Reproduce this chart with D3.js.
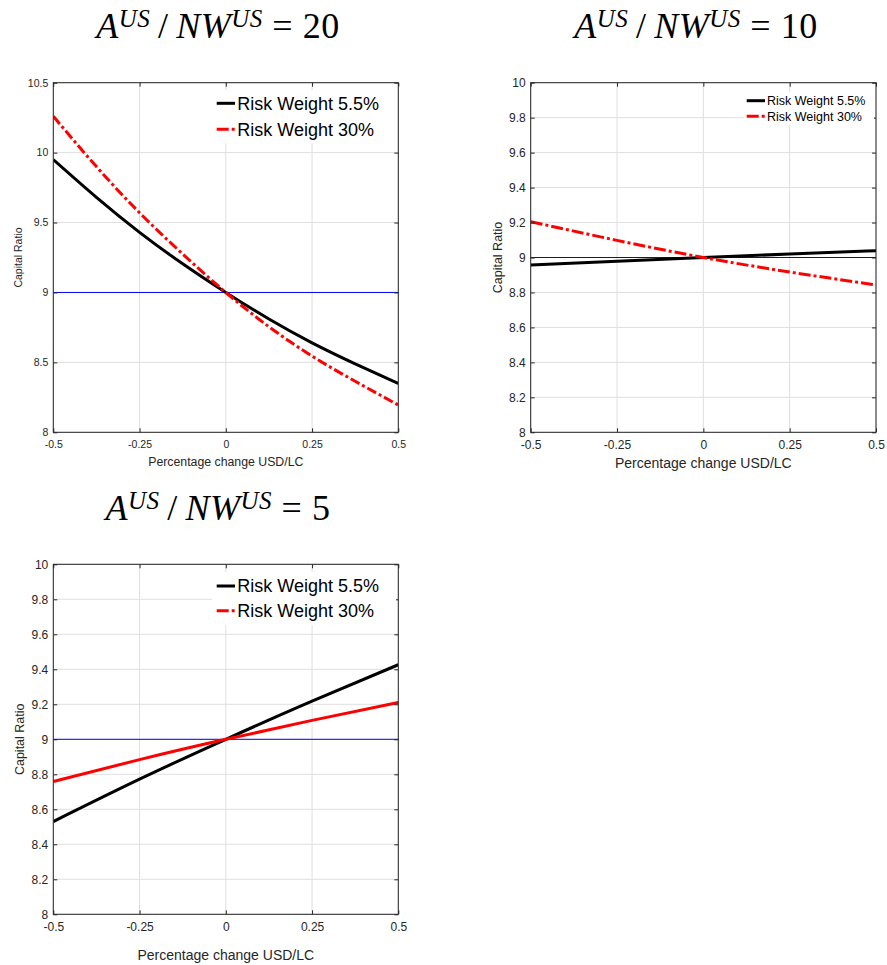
<!DOCTYPE html>
<html><head><meta charset="utf-8">
<script src="https://cdn.jsdelivr.net/npm/d3@7"></script>
<style>body{margin:0;background:#fff} svg{display:block}</style>
</head><body><svg id="c" width="887" height="965"></svg>
<script>
// ---------- data ----------
const xTicks = [-0.5, -0.25, 0, 0.25, 0.5];
const xTickLabels = ["-0.5", "-0.25", "0", "0.25", "0.5"];
const p1YTicks = [8, 8.5, 9, 9.5, 10, 10.5];
const p1YTickLabels = ["8", "8.5", "9", "9.5", "10", "10.5"];
const p23YTicks = [8, 8.2, 8.4, 8.6, 8.8, 9, 9.2, 9.4, 9.6, 9.8, 10];
const p23YTickLabels = ["8", "8.2", "8.4", "8.6", "8.8", "9", "9.2", "9.4", "9.6", "9.8", "10"];
const seriesNames = ["Risk Weight 5.5%", "Risk Weight 30%"];
const titleRatios = ["20", "10", "5"];
const xAxisLabel = "Percentage change USD/LC";
const yAxisLabel = "Capital Ratio";
const referenceLevel = 9;

const p1X = [-0.5, -0.375, -0.25, -0.125, 0, 0.125, 0.25, 0.375, 0.5];
const p1Black = [9.95, 9.68, 9.43, 9.205, 9.0, 8.81, 8.64, 8.49, 8.35];
const p1Red = [10.26, 9.90, 9.57, 9.275, 9.0, 8.755, 8.545, 8.365, 8.195];

const p2X = [-0.5, -0.25, 0, 0.25, 0.5];
const p2Black = [8.957, 8.978, 9.0, 9.02, 9.039];
const p2Red = [9.205, 9.098, 9.0, 8.917, 8.843];

const p3X = [-0.5, -0.25, 0, 0.25, 0.5];
const p3Black = [8.53, 8.772, 9.0, 9.218, 9.426];
const p3Red = [8.759, 8.884, 9.0, 9.108, 9.21];

// ---------- layout ----------
const panels = [
  {x: p1X, black: p1Black, red: p1Red, yTicks: p1YTicks, yLabels: p1YTickLabels, yDomain: [8, 10.5],
   left: 53.3, right: 398.3, top: 82.7, bottom: 432.3, tickFont: 10.5, xLabelFont: 12.3, xLabelY: 466,
   yLabelFont: 10.5, yLabelX: 18, titleX: 218, titleY: 38, title: titleRatios[0],
   legend: {x: 212, y: 90, w: 184, h: 53, font: 18, s0: 216.7, s1: 235, tx: 237.3, r1: 103.3, r2: 129.3},
   redDash: "10,3,3,3"},
  {x: p2X, black: p2Black, red: p2Red, yTicks: p23YTicks, yLabels: p23YTickLabels, yDomain: [8, 10],
   left: 530.7, right: 876, top: 82.7, bottom: 432.3, tickFont: 12, xLabelFont: 14, xLabelY: 468,
   yLabelFont: 12.5, yLabelX: 498, titleX: 696, titleY: 38, title: titleRatios[1],
   legend: {x: 744, y: 92, w: 130, h: 33, font: 12.5, s0: 746.7, s1: 765, tx: 767, r1: 100.7, r2: 116.3},
   redDash: "12,3,3,3"},
  {x: p3X, black: p3Black, red: p3Red, yTicks: p23YTicks, yLabels: p23YTickLabels, yDomain: [8, 10],
   left: 53.3, right: 398.3, top: 564.3, bottom: 914.3, tickFont: 12, xLabelFont: 14, xLabelY: 960,
   yLabelFont: 12.5, yLabelX: 20, titleX: 218, titleY: 520, title: titleRatios[2],
   legend: {x: 212, y: 572, w: 184, h: 53, font: 18, s0: 216.7, s1: 235, tx: 237.3, r1: 586, r2: 610.7},
   redDash: null}
];

const svg = d3.select("#c");
svg.append("rect").attr("width", 887).attr("height", 965).attr("fill", "#fff");
const axisColor = "#262626";
const sansFont = "'Liberation Sans', Arial, sans-serif";

panels.forEach((p, i) => {
  const x = d3.scaleLinear().domain([-0.5, 0.5]).range([p.left, p.right]);
  const y = d3.scaleLinear().domain(p.yDomain).range([p.bottom, p.top]);
  const g = svg.append("g");

  // grid
  g.append("g").selectAll("line").data(xTicks).join("line")
    .attr("x1", d => x(d)).attr("x2", d => x(d)).attr("y1", p.top).attr("y2", p.bottom)
    .attr("stroke", "#dfdfdf").attr("stroke-width", 1);
  g.append("g").selectAll("line").data(p.yTicks).join("line")
    .attr("y1", d => y(d)).attr("y2", d => y(d)).attr("x1", p.left).attr("x2", p.right)
    .attr("stroke", "#dfdfdf").attr("stroke-width", 1);

  // clip
  const cid = "clip" + i;
  svg.append("clipPath").attr("id", cid).append("rect")
    .attr("x", p.left).attr("y", p.top).attr("width", p.right - p.left).attr("height", p.bottom - p.top);

  // reference line
  g.append("line").attr("x1", x(-0.5)).attr("x2", x(0.5))
    .attr("y1", y(referenceLevel)).attr("y2", y(referenceLevel))
    .attr("stroke", "#0000ff").attr("stroke-width", 1);

  const line = d3.line().x(d => x(d[0])).y(d => y(d[1])).curve(d3.curveNatural);
  const blackPts = p.x.map((v, k) => [v, p.black[k]]);
  const redPts = p.x.map((v, k) => [v, p.red[k]]);
  const lines = g.append("g").attr("clip-path", `url(#${cid})`);
  lines.append("path").attr("d", line(blackPts)).attr("fill", "none")
    .attr("stroke", "#000").attr("stroke-width", 3);
  const rp = lines.append("path").attr("d", line(redPts)).attr("fill", "none")
    .attr("stroke", "#ff0000").attr("stroke-width", 3);
  if (p.redDash) rp.attr("stroke-dasharray", p.redDash);

  // axes (inward ticks on all sides)
  const fmtX = d => xTickLabels[xTicks.indexOf(d)];
  const fmtY = d => p.yLabels[p.yTicks.indexOf(d)];
  const bottom = g.append("g").attr("transform", `translate(0,${p.bottom})`)
    .call(d3.axisBottom(x).tickValues(xTicks).tickFormat(fmtX).tickSizeInner(-4).tickSizeOuter(0).tickPadding(8));
  const top = g.append("g").attr("transform", `translate(0,${p.top})`)
    .call(d3.axisTop(x).tickValues(xTicks).tickFormat("").tickSizeInner(-4).tickSizeOuter(0));
  const left = g.append("g").attr("transform", `translate(${p.left},0)`)
    .call(d3.axisLeft(y).tickValues(p.yTicks).tickFormat(fmtY).tickSizeInner(-4).tickSizeOuter(0).tickPadding(5));
  const right = g.append("g").attr("transform", `translate(${p.right},0)`)
    .call(d3.axisRight(y).tickValues(p.yTicks).tickFormat("").tickSizeInner(-4).tickSizeOuter(0));
  [bottom, top, left, right].forEach(a => {
    a.select(".domain").remove();
    a.selectAll(".tick line").attr("stroke", axisColor);
    a.selectAll("text").attr("fill", axisColor).style("font-family", sansFont).style("font-size", p.tickFont + "px");
  });
  g.append("rect").attr("x", p.left).attr("y", p.top)
    .attr("width", p.right - p.left).attr("height", p.bottom - p.top)
    .attr("fill", "none").attr("stroke", axisColor).attr("stroke-width", 1);

  // axis labels
  g.append("text").attr("x", (p.left + p.right) / 2).attr("y", p.xLabelY)
    .attr("text-anchor", "middle").attr("fill", axisColor)
    .style("font-family", sansFont).style("font-size", p.xLabelFont + "px").text(xAxisLabel);
  g.append("text").attr("transform", `translate(${p.yLabelX},${(p.top + p.bottom) / 2}) rotate(-90)`)
    .attr("text-anchor", "middle").attr("dy", "0.35em").attr("fill", axisColor)
    .style("font-family", sansFont).style("font-size", p.yLabelFont + "px").text(yAxisLabel);

  // legend
  const L = p.legend;
  const lg = g.append("g");
  lg.append("rect").attr("x", L.x).attr("y", L.y).attr("width", L.w).attr("height", L.h).attr("fill", "#fff");
  lg.append("line").attr("x1", L.s0).attr("x2", L.s1).attr("y1", L.r1).attr("y2", L.r1)
    .attr("stroke", "#000").attr("stroke-width", 3);
  lg.append("line").attr("x1", L.s0).attr("x2", L.s1).attr("y1", L.r2).attr("y2", L.r2)
    .attr("stroke", "#ff0000").attr("stroke-width", 3).attr("stroke-dasharray", "12,3,3,3");
  [L.r1, L.r2].forEach((ry, k) => {
    lg.append("text").attr("x", L.tx).attr("y", ry).attr("dy", "0.35em")
      .attr("fill", "#000").style("font-family", sansFont).style("font-size", L.font + "px")
      .text(seriesNames[k]);
  });

  // title: A^{US} / NW^{US} = N
  const t = svg.append("text").attr("x", p.titleX).attr("y", p.titleY).attr("text-anchor", "middle")
    .attr("fill", "#000").style("font-family", "'Liberation Serif', 'DejaVu Serif', serif")
    .style("font-size", "36px").style("letter-spacing", "0.5px");
  t.append("tspan").style("font-style", "italic").text("A");
  t.append("tspan").style("font-style", "italic").style("font-size", "25px").attr("dy", -11).text("US");
  t.append("tspan").attr("dy", 11).text("\u2009/\u2009");
  t.append("tspan").style("font-style", "italic").text("NW");
  t.append("tspan").style("font-style", "italic").style("font-size", "25px").attr("dy", -11).text("US");
  t.append("tspan").attr("dy", 11).text(" = " + p.title);
});
</script>
</body></html>
